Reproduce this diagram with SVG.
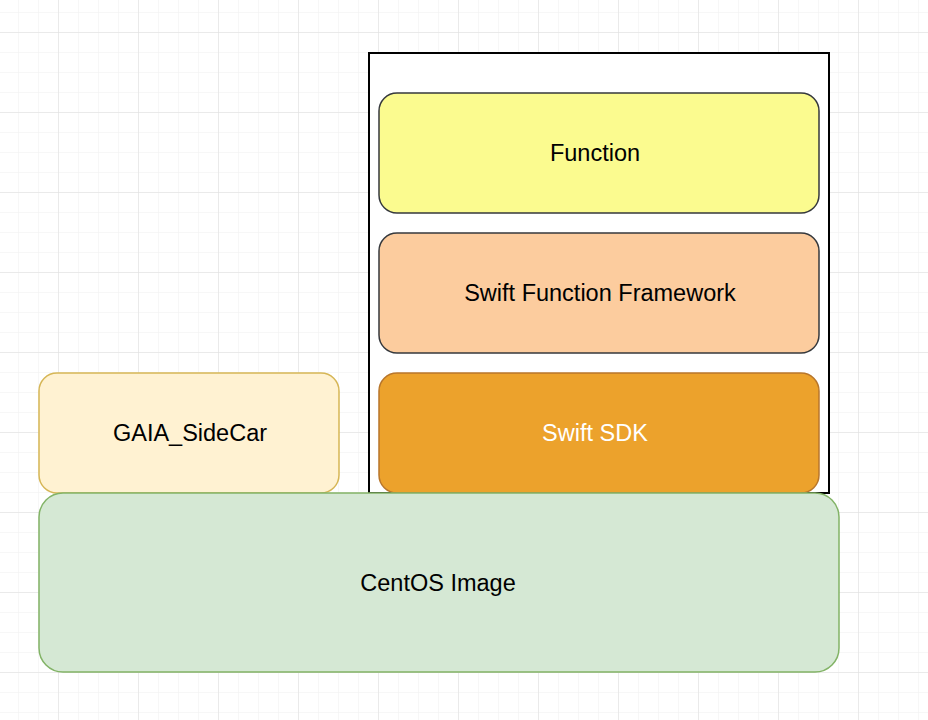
<svg xmlns="http://www.w3.org/2000/svg" width="928" height="720" viewBox="0 0 928 720">
<defs>
<pattern id="minor" x="18" y="12" width="20" height="20" patternUnits="userSpaceOnUse">
<path d="M0 0H20M0 0V20" fill="none" stroke="#efefef" stroke-width="1"/>
</pattern>
<pattern id="major" x="58" y="32" width="80" height="80" patternUnits="userSpaceOnUse">
<path d="M0 0H80M0 0V80" fill="none" stroke="#dedede" stroke-width="1"/>
</pattern>
</defs>
<style>
text{font-family:"Liberation Sans",Arial,Helvetica,sans-serif;font-size:23.5px;text-anchor:middle;dominant-baseline:central;fill:#000}
.box{stroke-width:1.5}
</style>
<rect width="928" height="720" fill="#fff"/>
<rect width="928" height="720" fill="url(#minor)"/>
<rect width="928" height="720" fill="url(#major)"/>
<g id="container"><rect x="369" y="53" width="460" height="440" fill="#fff" stroke="#000" stroke-width="2"/></g>
<g id="function"><rect class="box" x="379" y="93" width="440" height="120" rx="18" fill="#fbfb8f" stroke="#36393d"/><text x="595" y="153">Function</text></g>
<g id="framework"><rect class="box" x="379" y="233" width="440" height="120" rx="18" fill="#fccc9e" stroke="#36393d"/><text x="600" y="293">Swift Function Framework</text></g>
<g id="sdk"><rect class="box" x="379" y="373" width="440" height="120" rx="18" fill="#eca22c" stroke="#b8762b"/><text x="595" y="433" style="fill:#fff">Swift SDK</text></g>
<g id="sidecar"><rect class="box" x="39" y="373" width="300" height="120" rx="18" fill="#fff2d2" stroke="#d6b656"/><text x="190" y="433">GAIA_SideCar</text></g>
<g id="centos"><rect class="box" x="39" y="493" width="800" height="179" rx="24" fill="#d5e8d4" stroke="#82b366"/><text x="438" y="583">CentOS Image</text></g>
<g id="connectors"/>
</svg>
